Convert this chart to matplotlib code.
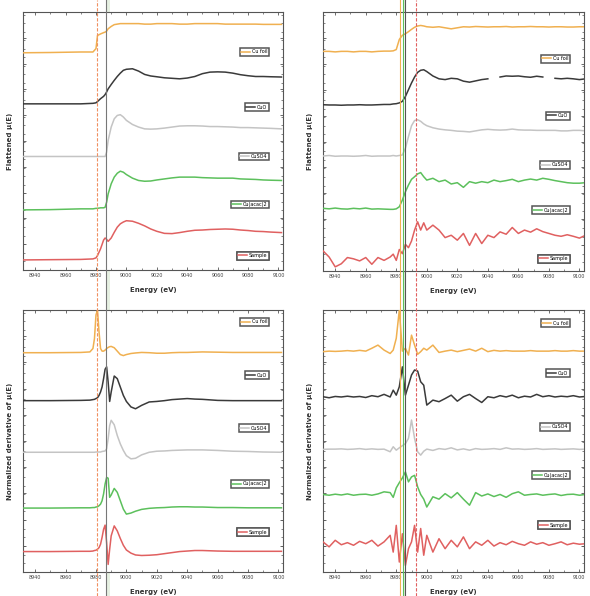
import numpy as np
import matplotlib
matplotlib.use("Agg")
import matplotlib.pyplot as plt
from matplotlib.lines import Line2D
from matplotlib.patches import Rectangle
from matplotlib.ticker import MultipleLocator
from matplotlib.transforms import blended_transform_factory

# sample names (top to bottom)
labels = ["Cu foil", "CuO", "CuSO4", "Cu(acac)2", "Sample"]
colors = ["#f0b050", "#3a3a3a", "#c4c4c4", "#5cc05c", "#e06060"]

# ---- left column: flattened mu(E) ----
E_flat_l = [8932, 8950, 8970, 8978, 8980, 8981, 8983, 8985, 8986, 8987, 8988, 8990, 8992,
            8994, 8996, 8998, 9000, 9004, 9008, 9012, 9016, 9020, 9025, 9030, 9035, 9040,
            9045, 9050, 9055, 9060, 9065, 9070, 9075, 9080, 9085, 9090, 9095, 9102]
flat_l_foil = [8.42, 8.43, 8.45, 8.45, 8.58, 9.09, 9.15, 9.20, 9.22, 9.26, 9.35, 9.44, 9.51,
               9.53, 9.55, 9.55, 9.55, 9.55, 9.55, 9.53, 9.53, 9.55, 9.55, 9.55, 9.53, 9.53,
               9.55, 9.55, 9.55, 9.55, 9.53, 9.53, 9.53, 9.53, 9.53, 9.52, 9.52, 9.52]
flat_l_cuo = [6.44, 6.44, 6.44, 6.46, 6.48, 6.53, 6.64, 6.73, 6.80, 6.90, 7.02, 7.19, 7.35,
              7.50, 7.63, 7.74, 7.78, 7.80, 7.71, 7.58, 7.52, 7.49, 7.45, 7.43, 7.41, 7.44,
              7.50, 7.61, 7.67, 7.68, 7.67, 7.63, 7.57, 7.53, 7.50, 7.50, 7.49, 7.48]
flat_l_so4 = [4.40, 4.40, 4.40, 4.40, 4.40, 4.40, 4.40, 4.40, 4.40, 4.57, 5.02, 5.54, 5.86,
              5.99, 6.02, 5.93, 5.80, 5.64, 5.54, 5.47, 5.46, 5.47, 5.50, 5.54, 5.58, 5.59,
              5.59, 5.58, 5.56, 5.56, 5.55, 5.54, 5.52, 5.52, 5.51, 5.50, 5.49, 5.47]
flat_l_acac = [2.33, 2.34, 2.37, 2.37, 2.39, 2.39, 2.41, 2.41, 2.43, 2.63, 2.95, 3.34, 3.60,
               3.75, 3.83, 3.79, 3.70, 3.56, 3.47, 3.44, 3.45, 3.49, 3.53, 3.57, 3.60, 3.60,
               3.60, 3.58, 3.57, 3.56, 3.56, 3.56, 3.53, 3.52, 3.51, 3.49, 3.48, 3.47]
flat_l_smp = [0.39, 0.40, 0.41, 0.43, 0.47, 0.56, 0.82, 1.16, 1.24, 1.19, 1.11, 1.24, 1.46,
              1.66, 1.79, 1.86, 1.91, 1.89, 1.81, 1.71, 1.59, 1.50, 1.42, 1.41, 1.45, 1.50,
              1.54, 1.55, 1.57, 1.58, 1.59, 1.58, 1.55, 1.53, 1.50, 1.49, 1.47, 1.45]

# ---- left column: derivative ----
E_der_l = [8932, 8950, 8970, 8976, 8978, 8979, 8980, 8981, 8982, 8983, 8984, 8985, 8986,
           8987, 8988, 8989, 8990, 8992, 8994, 8996, 8998, 9000, 9003, 9006, 9010, 9015,
           9020, 9025, 9030, 9035, 9040, 9045, 9050, 9060, 9070, 9080, 9090, 9102]
der_l_foil = [8.37, 8.37, 8.38, 8.40, 8.53, 8.91, 9.81, 10.0, 9.17, 8.53, 8.43, 8.43, 8.47,
              8.53, 8.57, 8.60, 8.61, 8.56, 8.43, 8.30, 8.26, 8.30, 8.34, 8.36, 8.38, 8.37,
              8.35, 8.35, 8.37, 8.38, 8.38, 8.39, 8.40, 8.39, 8.38, 8.38, 8.38, 8.38]
der_l_cuo = [6.54, 6.54, 6.55, 6.56, 6.58, 6.59, 6.62, 6.65, 6.74, 6.87, 7.06, 7.38, 7.74,
             7.83, 7.25, 6.51, 6.87, 7.48, 7.38, 7.06, 6.74, 6.51, 6.30, 6.23, 6.36, 6.49,
             6.51, 6.54, 6.58, 6.60, 6.62, 6.60, 6.59, 6.55, 6.54, 6.54, 6.54, 6.54]
der_l_so4 = [4.57, 4.57, 4.57, 4.57, 4.57, 4.57, 4.58, 4.58, 4.58, 4.58, 4.60, 4.61, 4.62,
             4.70, 5.08, 5.59, 5.79, 5.62, 5.21, 4.89, 4.64, 4.44, 4.32, 4.34, 4.47, 4.57,
             4.61, 4.62, 4.64, 4.65, 4.66, 4.66, 4.66, 4.64, 4.61, 4.60, 4.58, 4.57]
der_l_acac = [2.44, 2.44, 2.45, 2.45, 2.46, 2.46, 2.48, 2.49, 2.53, 2.59, 2.72, 2.98, 3.36,
              3.61, 3.58, 2.85, 2.94, 3.19, 3.04, 2.72, 2.40, 2.21, 2.25, 2.32, 2.39, 2.43,
              2.45, 2.46, 2.48, 2.49, 2.49, 2.48, 2.48, 2.46, 2.46, 2.45, 2.45, 2.45]
der_l_smp = [0.78, 0.78, 0.79, 0.79, 0.80, 0.82, 0.83, 0.87, 0.93, 1.06, 1.32, 1.63, 1.79,
             1.12, 0.29, 0.87, 1.38, 1.76, 1.57, 1.28, 1.02, 0.84, 0.72, 0.65, 0.63, 0.64,
             0.66, 0.70, 0.74, 0.78, 0.80, 0.82, 0.82, 0.80, 0.79, 0.79, 0.79, 0.79]

# ---- right column shared energy grid ----
E_r = [8932, 8936, 8940, 8944, 8948, 8952, 8956, 8960, 8964, 8968, 8972, 8976, 8978, 8980,
       8982, 8984, 8986, 8988, 8990, 8992, 8994, 8996, 8998, 9000, 9004, 9008, 9012, 9016,
       9020, 9024, 9028, 9032, 9036, 9040, 9044, 9048, 9052, 9056, 9060, 9064, 9068, 9072,
       9076, 9080, 9084, 9088, 9092, 9096, 9100, 9104]

flat_r_foil = [8.48, 8.48, 8.46, 8.48, 8.48, 8.46, 8.48, 8.48, 8.46, 8.48, 8.49, 8.49, 8.50,
               8.55, 8.94, 9.10, 9.16, 9.24, 9.33, 9.41, 9.46, 9.48, 9.46, 9.43, 9.41, 9.43,
               9.39, 9.35, 9.39, 9.43, 9.42, 9.44, 9.43, 9.42, 9.43, 9.43, 9.44, 9.42, 9.43,
               9.43, 9.44, 9.43, 9.43, 9.42, 9.43, 9.43, 9.42, 9.42, 9.43, 9.43]
flat_r_cuo = [6.42, 6.41, 6.41, 6.40, 6.41, 6.41, 6.42, 6.41, 6.41, 6.42, 6.43, 6.43, 6.45,
              6.46, 6.49, 6.55, 6.74, 7.00, 7.26, 7.49, 7.67, 7.75, 7.77, 7.70, 7.53, 7.42,
              7.39, 7.44, 7.42, 7.33, 7.29, 7.34, 7.39, 7.42, np.nan, 7.49, 7.53, 7.52, 7.53,
              7.50, 7.48, 7.52, 7.49, np.nan, 7.44, 7.42, 7.44, 7.42, 7.39, 7.42]
flat_r_so4 = [4.44, 4.46, 4.43, 4.44, 4.44, 4.43, 4.44, 4.46, 4.43, 4.44, 4.44, 4.44, 4.46,
              4.44, 4.46, 4.48, 4.74, 5.19, 5.61, 5.81, 5.84, 5.78, 5.68, 5.61, 5.53, 5.48,
              5.45, 5.43, 5.40, 5.39, 5.37, 5.41, 5.45, 5.47, 5.45, 5.44, 5.45, 5.48, 5.45,
              5.44, 5.44, 5.43, 5.43, 5.43, 5.43, 5.41, 5.41, 5.43, 5.43, 5.41]
flat_r_acac = [2.42, 2.40, 2.43, 2.40, 2.39, 2.42, 2.40, 2.43, 2.39, 2.40, 2.39, 2.38, 2.38,
               2.40, 2.48, 2.74, 3.06, 3.32, 3.54, 3.64, 3.75, 3.80, 3.64, 3.51, 3.58, 3.45,
               3.51, 3.36, 3.41, 3.23, 3.45, 3.39, 3.45, 3.41, 3.51, 3.45, 3.49, 3.54, 3.45,
               3.51, 3.55, 3.51, 3.58, 3.54, 3.49, 3.45, 3.41, 3.39, 3.39, 3.41]
flat_r_smp = [0.78, 0.54, 0.16, 0.28, 0.52, 0.47, 0.39, 0.52, 0.26, 0.52, 0.41, 0.54, 0.65,
              0.41, 0.83, 0.67, 1.03, 0.90, 1.16, 1.58, 1.90, 1.58, 1.86, 1.58, 1.77, 1.58,
              1.29, 1.38, 1.19, 1.45, 0.99, 1.45, 1.06, 1.38, 1.29, 1.51, 1.42, 1.68, 1.45,
              1.58, 1.50, 1.63, 1.52, 1.45, 1.38, 1.34, 1.40, 1.34, 1.27, 1.38]

der_r_foil = [8.41, 8.43, 8.42, 8.43, 8.45, 8.43, 8.46, 8.43, 8.54, 8.66, 8.47, 8.34, 8.47,
              8.92, 10.0, 8.43, 8.54, 8.28, 9.04, 8.66, 8.31, 8.41, 8.54, 8.47, 8.66, 8.38,
              8.43, 8.47, 8.41, 8.46, 8.51, 8.43, 8.54, 8.41, 8.46, 8.43, 8.45, 8.43, 8.43,
              8.43, 8.45, 8.43, 8.43, 8.43, 8.45, 8.43, 8.43, 8.45, 8.43, 8.43]
der_r_cuo = [6.69, 6.65, 6.70, 6.68, 6.71, 6.68, 6.70, 6.66, 6.73, 6.69, 6.78, 6.68, 6.94,
             6.75, 7.07, 7.83, 6.75, 7.13, 7.52, 7.71, 7.67, 7.26, 7.13, 6.37, 6.56, 6.50,
             6.62, 6.75, 6.52, 6.69, 6.78, 6.62, 6.47, 6.69, 6.65, 6.73, 6.68, 6.75, 6.65,
             6.71, 6.68, 6.78, 6.69, 6.73, 6.68, 6.71, 6.69, 6.73, 6.68, 6.70]
der_r_so4 = [4.68, 4.69, 4.69, 4.70, 4.68, 4.69, 4.71, 4.68, 4.70, 4.68, 4.69, 4.59, 4.78,
             4.65, 4.74, 4.82, 4.90, 5.10, 5.80, 5.10, 4.59, 4.46, 4.61, 4.69, 4.64, 4.71,
             4.68, 4.74, 4.66, 4.70, 4.65, 4.71, 4.68, 4.69, 4.71, 4.68, 4.74, 4.69, 4.70,
             4.68, 4.69, 4.71, 4.68, 4.69, 4.70, 4.68, 4.69, 4.70, 4.68, 4.69]
der_r_acac = [2.96, 2.93, 2.97, 2.94, 2.98, 2.93, 2.96, 2.97, 2.93, 2.98, 3.06, 3.03, 2.85,
              3.21, 3.41, 3.59, 3.82, 3.44, 3.63, 3.69, 3.25, 2.96, 2.78, 2.48, 2.87, 2.78,
              2.99, 2.83, 3.03, 2.78, 2.55, 3.03, 2.90, 2.98, 2.88, 2.96, 2.85, 2.99, 3.06,
              2.93, 2.96, 2.98, 2.93, 2.96, 2.98, 2.92, 2.96, 2.97, 2.93, 2.96]
der_r_smp = [1.15, 0.96, 1.21, 1.04, 1.12, 1.02, 1.17, 1.08, 1.21, 0.99, 1.15, 1.40, 0.76,
             1.78, 0.38, 1.46, 0.25, 0.89, 1.15, 1.78, 0.76, 1.66, 0.64, 1.40, 0.76, 1.27,
             0.89, 1.21, 0.96, 1.34, 0.89, 1.15, 1.02, 1.21, 0.99, 1.12, 1.04, 1.17, 1.08,
             1.02, 1.15, 1.06, 1.12, 1.02, 1.08, 1.15, 1.04, 1.10, 1.06, 1.08]

# legend box centres (axes fraction y), one per sample, per panel
leg_y_tl = [0.845, 0.631, 0.44, 0.254, 0.056]
leg_y_tr = [0.82, 0.60, 0.41, 0.235, 0.048]
leg_y_bl = [0.955, 0.751, 0.549, 0.336, 0.151]
leg_y_br = [0.949, 0.758, 0.554, 0.369, 0.178]

# marker energies
mark_l = [8980.5, 8986.7]
band_l = (8986.7, 8989.3)
mark_r = [8982.2, 8984.5, 8986.0, 8993.0]
band_r = (8984.5, 8986.0)

fig = plt.figure(figsize=(5.90, 5.96), dpi=100)
W, H = 590, 596


def px_axes(x0, y0, x1, y1):
    return fig.add_axes([x0 / W, 1 - y1 / H, (x1 - x0) / W, (y1 - y0) / H])


ax_tl = px_axes(23, 12, 283, 270)
ax_tr = px_axes(323, 12, 584, 271)
ax_bl = px_axes(23, 310, 283, 572)
ax_br = px_axes(323, 310, 584, 572)

panels = [
    (ax_tl, E_flat_l, [flat_l_foil, flat_l_cuo, flat_l_so4, flat_l_acac, flat_l_smp], leg_y_tl,
     "Flattened \u03bc(E)"),
    (ax_tr, E_r, [flat_r_foil, flat_r_cuo, flat_r_so4, flat_r_acac, flat_r_smp], leg_y_tr,
     "Flattened \u03bc(E)"),
    (ax_bl, E_der_l, [der_l_foil, der_l_cuo, der_l_so4, der_l_acac, der_l_smp], leg_y_bl,
     "Normalized derivative of \u03bc(E)"),
    (ax_br, E_r, [der_r_foil, der_r_cuo, der_r_so4, der_r_acac, der_r_smp], leg_y_br,
     "Normalized derivative of \u03bc(E)"),
]

for ax, E, series, leg_y, ylab in panels:
    lines = []
    for vals, c in zip(series, colors):
        ln, = ax.plot(E, vals, color=c, lw=1.1, zorder=3)
        lines.append(ln)
    ax.set_xlim(8932, 9103)
    ax.set_ylim(0, 10)
    ax.set_xticks([8940, 8960, 8980, 9000, 9020, 9040, 9060, 9080, 9100])
    ax.xaxis.set_minor_locator(MultipleLocator(10))
    ax.yaxis.set_major_locator(MultipleLocator(1))
    ax.yaxis.set_minor_locator(MultipleLocator(0.33))
    ax.set_yticklabels([])
    ax.tick_params(which="both", direction="in", top=True, right=True, labelsize=3.5,
                   color="#555555", labelcolor="#444444", pad=2.5)
    ax.tick_params(which="major", length=2.5, width=0.6)
    ax.tick_params(which="minor", length=1.5, width=0.5)
    for s in ax.spines.values():
        s.set_color("#555555")
        s.set_linewidth(0.8)
    ax.set_xlabel("Energy (eV)", fontsize=5, fontweight="bold", color="#333333", labelpad=6)
    ax.set_ylabel(ylab, fontsize=5, fontweight="bold", color="#333333", labelpad=5)
    for ln, lab, y in zip(lines, labels, leg_y):
        lg = ax.legend([ln], [lab], loc="center right", bbox_to_anchor=(0.955, y),
                       fontsize=3.5, handlelength=1.8, handletextpad=0.4, borderpad=0.3,
                       fancybox=False, framealpha=1, edgecolor="#555555")
        lg.get_frame().set_linewidth(1.1)
        ax.add_artist(lg)

# vertical energy markers spanning each column of the figure
tr_l = blended_transform_factory(ax_tl.transData, fig.transFigure)
tr_r = blended_transform_factory(ax_tr.transData, fig.transFigure)

fig.add_artist(Rectangle((band_l[0], 0.0), band_l[1] - band_l[0], 1.0, transform=tr_l,
                         facecolor="#d6e6cf", edgecolor="none", alpha=0.6, zorder=0))
fig.add_artist(Line2D([mark_l[0]] * 2, [0.0, 1.0], transform=tr_l, color="#f09060",
                      lw=0.8, ls=(0, (3, 1.5)), zorder=1))
fig.add_artist(Line2D([mark_l[1]] * 2, [0.0, 1.0], transform=tr_l, color="#777777",
                      lw=0.8, zorder=1))

fig.add_artist(Rectangle((band_r[0], 0.0), band_r[1] - band_r[0], 1.0, transform=tr_r,
                         facecolor="#d6ecd0", edgecolor="none", alpha=0.7, zorder=0))
fig.add_artist(Line2D([mark_r[0]] * 2, [0.0, 1.0], transform=tr_r, color="#f0b050",
                      lw=0.8, zorder=1))
fig.add_artist(Line2D([mark_r[1]] * 2, [0.0, 1.0], transform=tr_r, color="#5cc05c",
                      lw=0.8, zorder=1))
fig.add_artist(Line2D([mark_r[2]] * 2, [0.0, 1.0], transform=tr_r, color="#555555",
                      lw=0.8, zorder=1))
fig.add_artist(Line2D([mark_r[3]] * 2, [0.0, 1.0], transform=tr_r, color="#e06060",
                      lw=0.8, ls=(0, (3, 1.5)), zorder=1))

fig.savefig("out.png", dpi=100)
